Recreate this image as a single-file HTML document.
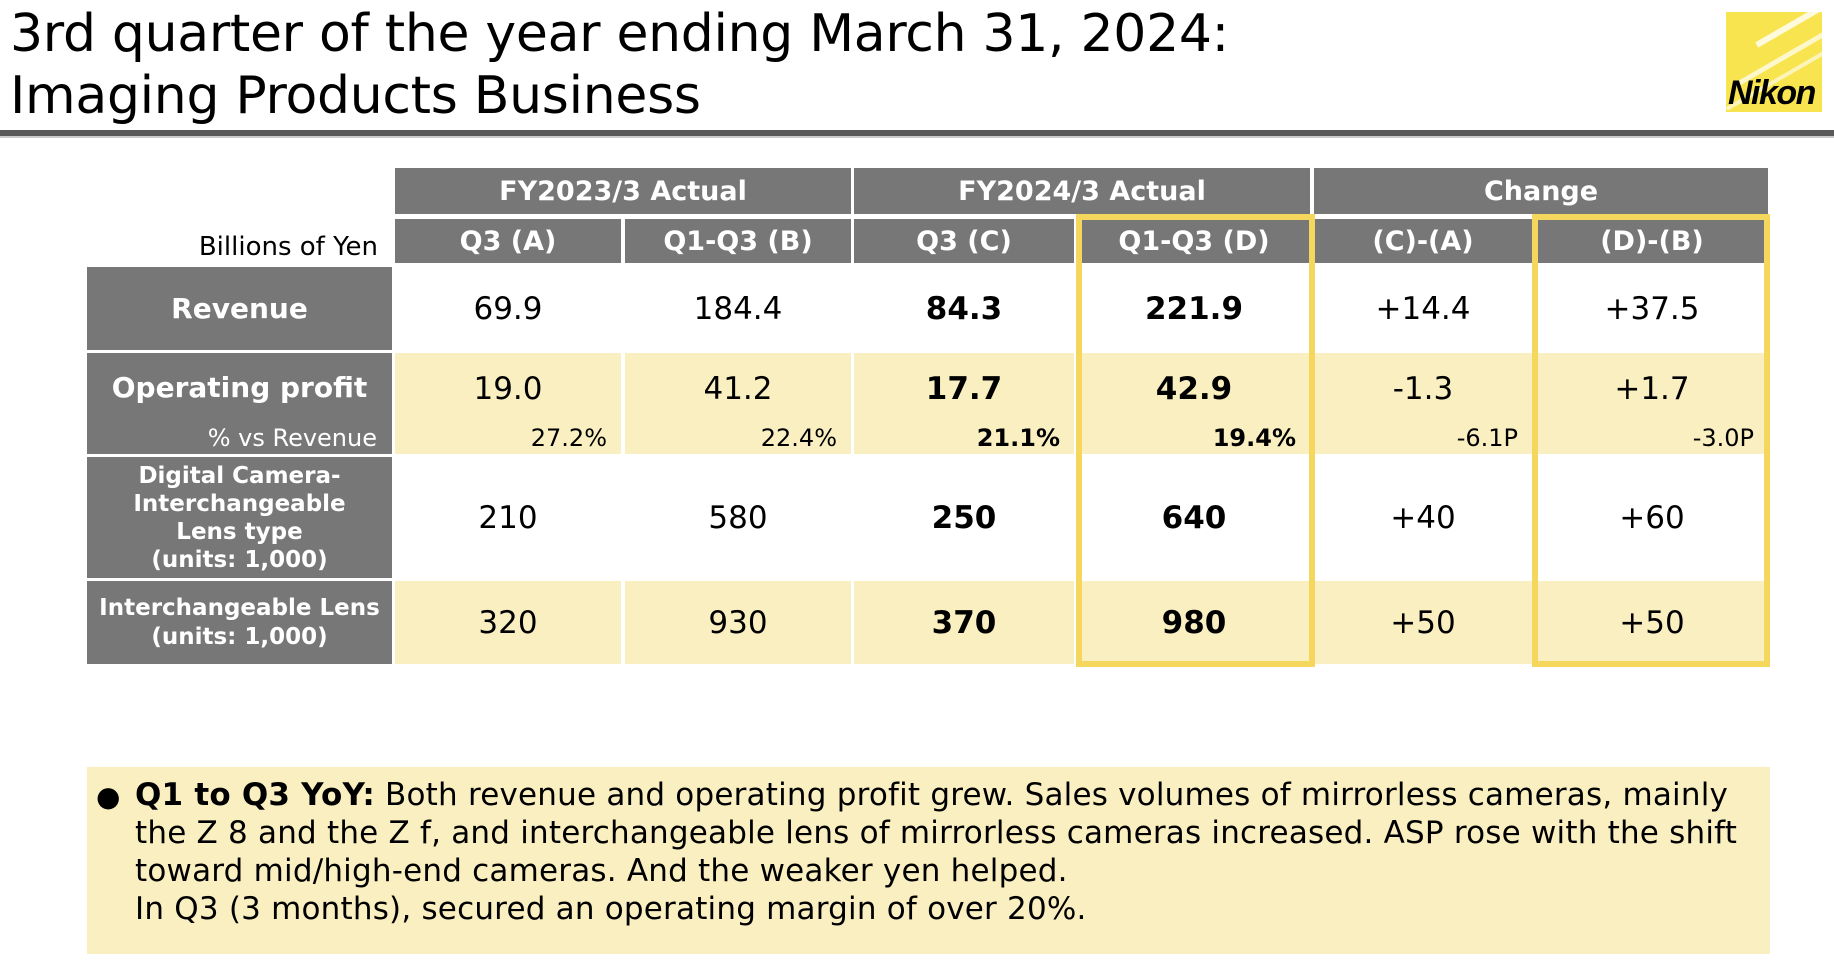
<!DOCTYPE html>
<html><head><meta charset="utf-8"><style>
body{margin:0;width:1834px;height:976px;background:#fff;position:relative;overflow:hidden;font-family:"DejaVu Sans","Liberation Sans",sans-serif;color:#000}
.a{position:absolute;box-sizing:border-box}
.g{background:#777;color:#fff;font-weight:bold;display:flex;align-items:center;justify-content:center;text-align:center}
.c{display:flex;align-items:center;justify-content:center;font-size:31px}
.y{background:#faefc0}
.b{font-weight:bold}
.p{position:absolute;right:14px;bottom:2px;font-size:24px}
</style></head><body>
<div class="a" style="left:10px;top:3px;font-size:52px;line-height:62px;letter-spacing:-0.3px">3rd quarter of the year ending March 31, 2024:<br>Imaging Products Business</div>
<div class="a" style="left:1726px;top:12px;width:96px;height:100px;background:#f8e44e;overflow:hidden">
<div style="position:absolute;left:20px;top:-10px;width:160px;height:6px;background:#fff;transform:rotate(-30deg);opacity:.8"></div>
<div style="position:absolute;left:0;top:30px;width:160px;height:5px;background:#fff;transform:rotate(-30deg);opacity:.7"></div>
<div style="position:absolute;left:-10px;top:55px;width:160px;height:4px;background:#fff;transform:rotate(-30deg);opacity:.6"></div>
<div style="position:absolute;left:2px;top:62px;font:italic bold 34px 'Liberation Sans',sans-serif;color:#000;letter-spacing:-1.5px">Nikon</div></div>
<div class="a" style="left:0;top:130px;width:1834px;height:6px;background:#5a5a5a"></div>
<div class="a" style="left:0;top:136px;width:1834px;height:2px;background:#ccc"></div>

<div class="a g" style="left:395px;top:168px;width:456px;height:46px;font-size:27px">FY2023/3 Actual</div>
<div class="a g" style="left:854px;top:168px;width:456px;height:46px;font-size:27px">FY2024/3 Actual</div>
<div class="a g" style="left:1314px;top:168px;width:454px;height:46px;font-size:27px">Change</div>
<div class="a" style="left:120px;top:232px;width:258px;text-align:right;font-size:26px">Billions of Yen</div>
<div class="a g" style="left:395px;top:219px;width:226px;height:44px;font-size:27px">Q3 (A)</div>
<div class="a g" style="left:625px;top:219px;width:226px;height:44px;font-size:27px">Q1-Q3 (B)</div>
<div class="a g" style="left:854px;top:219px;width:220px;height:44px;font-size:27px">Q3 (C)</div>
<div class="a g" style="left:1078px;top:219px;width:232px;height:44px;font-size:27px">Q1-Q3 (D)</div>
<div class="a g" style="left:1314px;top:219px;width:218px;height:44px;font-size:27px">(C)-(A)</div>
<div class="a g" style="left:1536px;top:219px;width:232px;height:44px;font-size:27px">(D)-(B)</div>

<div class="a g" style="left:87px;top:267px;width:305px;height:83px;font-size:28px">Revenue</div>
<div class="a g" style="left:87px;top:353px;width:305px;height:101px;font-size:28px;align-items:flex-start;padding-top:18px">Operating profit</div>
<div class="a" style="left:87px;top:424px;width:290px;text-align:right;color:#fff;font-size:24px">% vs Revenue</div>
<div class="a g" style="left:87px;top:457px;width:305px;height:121px;font-size:23px;line-height:28px">Digital Camera-<br>Interchangeable<br>Lens type<br>(units: 1,000)</div>
<div class="a g" style="left:87px;top:581px;width:305px;height:83px;font-size:23px;line-height:29px">Interchangeable Lens<br>(units: 1,000)</div>

<div class="a c" style="left:395px;top:267px;width:226px;height:83px">69.9</div>
<div class="a c" style="left:625px;top:267px;width:226px;height:83px">184.4</div>
<div class="a c b" style="left:854px;top:267px;width:220px;height:83px">84.3</div>
<div class="a c b" style="left:1078px;top:267px;width:232px;height:83px">221.9</div>
<div class="a c" style="left:1314px;top:267px;width:218px;height:83px">+14.4</div>
<div class="a c" style="left:1536px;top:267px;width:232px;height:83px">+37.5</div>

<div class="a c y" style="left:395px;top:353px;width:226px;height:101px;align-items:flex-start;padding-top:18px">19.0<span class="p">27.2%</span></div>
<div class="a c y" style="left:625px;top:353px;width:226px;height:101px;align-items:flex-start;padding-top:18px">41.2<span class="p">22.4%</span></div>
<div class="a c y b" style="left:854px;top:353px;width:220px;height:101px;align-items:flex-start;padding-top:18px">17.7<span class="p">21.1%</span></div>
<div class="a c y b" style="left:1078px;top:353px;width:232px;height:101px;align-items:flex-start;padding-top:18px">42.9<span class="p">19.4%</span></div>
<div class="a c y" style="left:1314px;top:353px;width:218px;height:101px;align-items:flex-start;padding-top:18px">-1.3<span class="p">-6.1P</span></div>
<div class="a c y" style="left:1536px;top:353px;width:232px;height:101px;align-items:flex-start;padding-top:18px">+1.7<span class="p">-3.0P</span></div>

<div class="a c" style="left:395px;top:457px;width:226px;height:121px">210</div>
<div class="a c" style="left:625px;top:457px;width:226px;height:121px">580</div>
<div class="a c b" style="left:854px;top:457px;width:220px;height:121px">250</div>
<div class="a c b" style="left:1078px;top:457px;width:232px;height:121px">640</div>
<div class="a c" style="left:1314px;top:457px;width:218px;height:121px">+40</div>
<div class="a c" style="left:1536px;top:457px;width:232px;height:121px">+60</div>

<div class="a c y" style="left:395px;top:581px;width:226px;height:83px">320</div>
<div class="a c y" style="left:625px;top:581px;width:226px;height:83px">930</div>
<div class="a c y b" style="left:854px;top:581px;width:220px;height:83px">370</div>
<div class="a c y b" style="left:1078px;top:581px;width:232px;height:83px">980</div>
<div class="a c y" style="left:1314px;top:581px;width:218px;height:83px">+50</div>
<div class="a c y" style="left:1536px;top:581px;width:232px;height:83px">+50</div>

<div class="a" style="left:1076px;top:214px;width:239px;height:453px;border:6px solid #f5d75e"></div>
<div class="a" style="left:1532px;top:214px;width:238px;height:453px;border:6px solid #f5d75e"></div>

<div class="a" style="left:87px;top:767px;width:1683px;height:187px;background:#faefc0"></div>
<div class="a" style="left:96px;top:778px;font-size:28px;line-height:38px">●</div>
<div class="a" style="left:135px;top:776px;width:1680px;font-size:31px;line-height:38px;letter-spacing:0.2px;white-space:nowrap"><b>Q1 to Q3 YoY:</b> Both revenue and operating profit grew. Sales volumes of mirrorless cameras, mainly<br>the Z 8 and the Z f, and interchangeable lens of mirrorless cameras increased. ASP rose with the shift<br>toward mid/high-end cameras. And the weaker yen helped.<br>In Q3 (3 months), secured an operating margin of over 20%.</div>
</body></html>
